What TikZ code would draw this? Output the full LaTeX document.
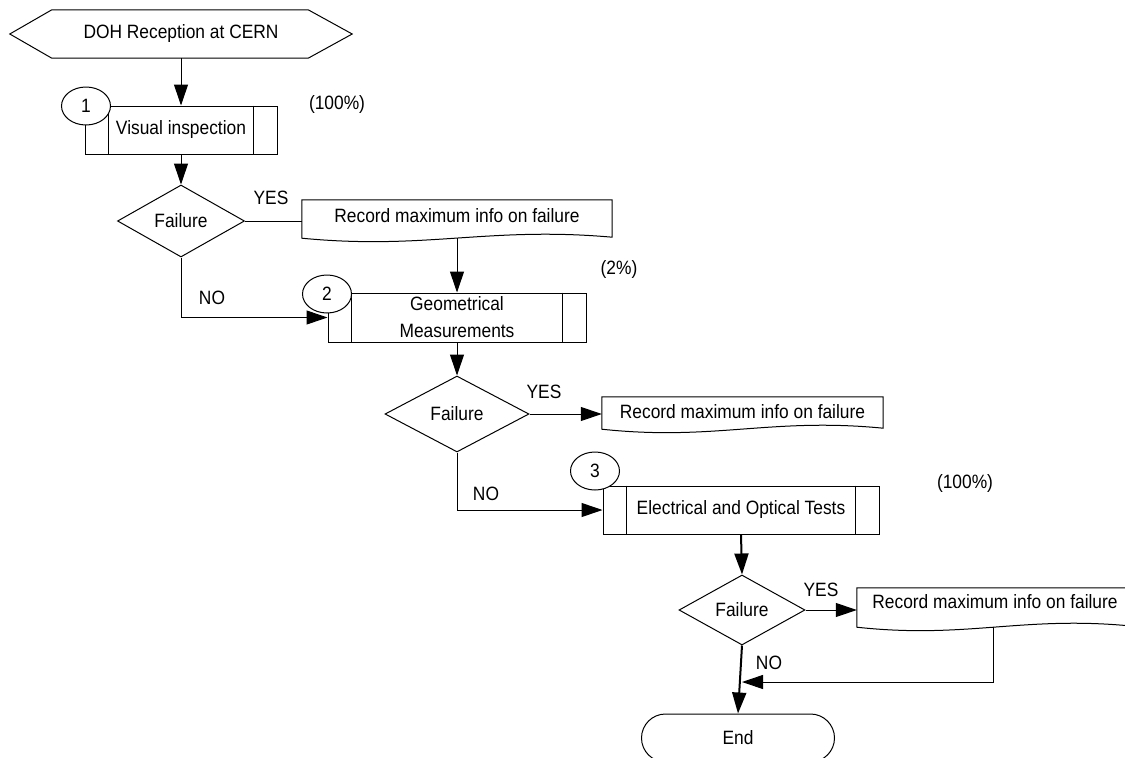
\documentclass[tikz,border=0pt]{standalone}
\usepackage{fontspec}
\setmainfont{Liberation Sans}[FakeStretch=0.9]
\usetikzlibrary{arrows.meta,shapes.geometric,shapes.misc,calc}
\newcommand\innerlines[1]{%
  \draw[line] ([xshift=24pt]#1.north west) -- ([xshift=24pt]#1.south west);
  \draw[line] ([xshift=-24pt]#1.north east) -- ([xshift=-24pt]#1.south east);}
\newcommand\docoutline[1]{%
  \path (#1.south west) coordinate (sw-#1) (#1.south east) coordinate (se-#1);
  \draw[line] (#1.north west) -- (#1.north east) -- ([yshift=1pt]se-#1)
    .. controls ($(se-#1)!0.4!(sw-#1)+(0,-12)$) and ($(sw-#1)!0.4!(se-#1)+(0,12)$) .. (sw-#1) -- cycle;}
\begin{document}
\begin{tikzpicture}[x=1pt,y=-1pt,
  every node/.style={font=\fontsize{19.3}{27}\selectfont, inner sep=0pt},
  line/.style={line width=1pt},
  arr/.style={line width=1pt, -{Triangle[length=21pt,width=14pt]}},
  thickarr/.style={line width=2pt, -{Triangle[length=21pt,width=14pt]}},
  proc/.style={draw, line width=1pt, rectangle, minimum height=48pt, align=center},
  decision/.style={draw, line width=1pt, diamond, shape aspect=2},
  marker/.style={draw, line width=1pt, ellipse, fill=white, minimum width=49pt, minimum height=38pt},
  docbox/.style={rectangle, minimum width=#1},
  term/.style={draw, line width=1pt, rounded rectangle, minimum width=193pt, minimum height=48pt}
]
\clip (0,0) rectangle (1125,758);

% start hexagon
\node[minimum width=342pt, minimum height=48pt] (start) at (181,34) {DOH Reception at CERN};
\draw[line] (start.west) -- ([xshift=42pt]start.north west) -- ([xshift=-44pt]start.north east)
  -- (start.east) -- ([xshift=-44pt]start.south east) -- ([xshift=42pt]start.south west) -- cycle;

% process boxes
\node[proc, minimum width=192pt] (box1) at (181,130) {Visual inspection};
\innerlines{box1}
\node[proc, minimum width=258pt, minimum height=49pt] (box2) at (457,317.5) {Geometrical\\Measurements};
\innerlines{box2}
\node[proc, minimum width=276pt] (box3) at (741,510) {Electrical and Optical Tests};
\innerlines{box3}

% decisions
\node[decision, minimum width=127pt, minimum height=72pt] (d1) at (181,221) {Failure};
\node[decision, minimum width=144pt, minimum height=76pt] (d2) at (457,414) {Failure};
\node[decision, minimum width=126pt, minimum height=70pt] (d3) at (742,610) {Failure};

% documents
\node[docbox=310pt, text height=22pt, text depth=16pt] (rec1) at (457,219) {Record maximum info on failure};
\docoutline{rec1}
\node[docbox=281pt, text height=21pt, text depth=11pt] (rec2) at (742.5,413) {Record maximum info on failure};
\docoutline{rec2}
\node[docbox=276pt, text height=20pt, text depth=19pt] (rec3) at (995,607.5) {Record maximum info on failure};
\docoutline{rec3}

% terminal
\node[term] (end) at (738,738) {End};

% connectors
\draw[arr] (start.south) -- (start.south |- box1.north);
\draw[arr] (box1.south) -- (d1.north);
\draw[line] (d1.east) -- (d1.east -| rec1.west);
\draw[arr] (rec1.south) -- (rec1.south |- box2.north);
\draw[arr] (d1.south) |- (box2.west);
\draw[arr] (box2.south) -- (d2.north);
\draw[arr] (d2.east) -- (d2.east -| rec2.west);
\draw[arr] (d2.south) |- (box3.west);
\draw[thickarr] (box3.south) -- (d3.north);
\draw[arr] (d3.east) -- (d3.east -| rec3.west);
\coordinate (join) at (742,682);
\draw[arr] ([xshift=-2pt]rec3.south) |- (join);
\draw[thickarr] (d3.south) -- (end.north);

% numbered markers
\node[marker] (c1) at (86,106) {1};
\node[marker] (c2) at (327,294) {2};
\node[marker] (c3) at (595,471) {3};

% labels
\node (p1) at (337,105) {(100\%)};
\node (p2) at (619,270) {(2\%)};
\node (p3) at (965,483) {(100\%)};
\node (y1) at (271,198) {YES};
\node (y2) at (544,392) {YES};
\node (y3) at (821,590) {YES};
\node (n1) at (212,298) {NO};
\node (n2) at (486,494) {NO};
\node (n3) at (769,663) {NO};
\end{tikzpicture}
\end{document}
